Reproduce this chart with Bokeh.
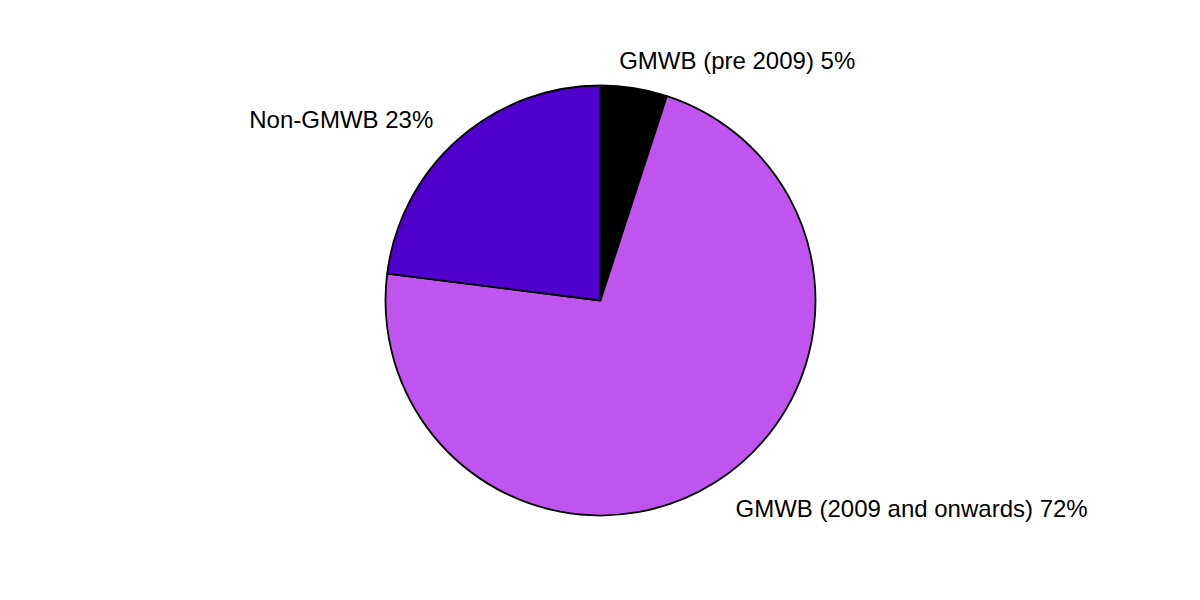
import math
from bokeh.plotting import figure
from bokeh.models import ColumnDataSource
from bokeh.core.properties import value
from bokeh.embed import file_html
from bokeh.resources import INLINE

categories = ["GMWB (pre 2009)", "GMWB (2009 and onwards)", "Non-GMWB"]
shares = [5, 72, 23]
colors = ["#000000", "#BF55EE", "#5000CC"]

W, H = 1184, 584
cx, cy, R = 600, 284, 215

total = sum(shares)
starts, ends, mids = [], [], []
cum = 0
for s in shares:
    a0 = math.pi / 2 - cum / total * 2 * math.pi
    cum += s
    a1 = math.pi / 2 - cum / total * 2 * math.pi
    starts.append(a0)
    ends.append(a1)
    mids.append((a0 + a1) / 2)

src = ColumnDataSource(dict(start=starts, end=ends, color=colors))

p = figure(width=W, height=H, x_range=(0, W), y_range=(0, H),
           output_backend="svg", toolbar_location=None, min_border=0)
p.axis.visible = False
p.grid.visible = False
p.outline_line_color = None
p.background_fill_color = "white"
p.border_fill_color = "white"

p.wedge(x=cx, y=cy, radius=R, start_angle="start", end_angle="end",
        direction="clock", fill_color="color", line_color="black",
        line_width=1.8, source=src)

dist = 1.12
# screen-pixel nudges (x right, y down)
nudges = [(-19, -2), (6, 5), (-8, 0)]
lx, ly, lt, la, ox, oy = [], [], [], [], [], []
for c, s, m, (nx, ny) in zip(categories, shares, mids, nudges):
    lx.append(cx + dist * R * math.cos(m))
    ly.append(cy + dist * R * math.sin(m))
    lt.append(f"{c} {s}%")
    la.append("left" if math.cos(m) >= 0 else "right")
    ox.append(nx)
    oy.append(ny)

lsrc = ColumnDataSource(dict(x=lx, y=ly, text=lt, align=la, ox=ox, oy=oy))
p.text(x="x", y="y", text="text", text_align="align", text_baseline="middle",
       x_offset="ox", y_offset="oy",
       text_font=value("Liberation Sans"), text_font_size="24px",
       text_color="black", source=lsrc)

open("out.html", "w").write(file_html(p, INLINE))
